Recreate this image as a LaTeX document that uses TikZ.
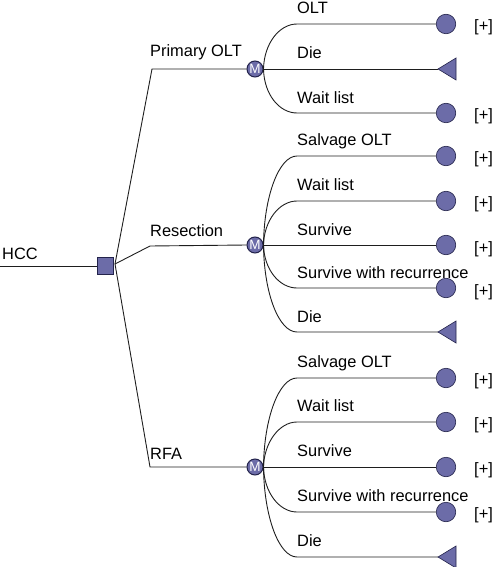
\documentclass[tikz,border=0pt]{standalone}
\usepackage{fontspec}
\setmainfont{Liberation Sans}
\definecolor{nodec}{RGB}{108,108,168}
\definecolor{edgec}{RGB}{35,35,75}
\definecolor{linec}{RGB}{30,30,30}
\begin{document}
\begin{tikzpicture}[x=1pt,y=-1pt,
  txt/.style={anchor=base west, inner sep=0pt, font=\fontsize{16.4}{18}\selectfont},
  plus/.style={anchor=west, inner sep=0pt, font=\fontsize{16.4}{18}\selectfont},
  decnode/.style={draw=edgec, fill=nodec, minimum width=16pt, minimum height=17pt, inner sep=0pt, line width=0.8pt},
  chance/.style={circle, draw=edgec, fill=nodec, minimum size=16pt, inner sep=0pt, line width=1pt, text=white, font=\fontsize{13.5}{13.5}\selectfont},
  term/.style={circle, draw=edgec, fill=nodec, minimum size=19.5pt, inner sep=0pt, line width=0.6pt},
  tri/.style={draw=edgec, fill=nodec, line width=0.6pt},
  conn/.style={draw=linec, line width=0.9pt}
]
\useasboundingbox (0,0) rectangle (494,567);

% root
\coordinate (start) at (0,266);
\node[decnode] (dec) at (105,266) {};
\node[txt] (hcc) at (2,259) {HCC};
\draw[conn] (start) -- (dec.west);
\coordinate (fan) at (115,264);

% chance nodes
\node[chance] (m1) at (255,69) {M};
\node[chance] (m2) at (255,245) {M};
\node[chance] (m3) at (255,467) {M};
\coordinate (k1) at (152,69);
\coordinate (k2) at (150,246);
\coordinate (k3) at (150,467);
\draw[conn] (fan) -- (k1) -- (m1.west);
\draw[conn] (fan) -- (k2) -- (m2.west);
\draw[conn] (fan) -- (k3) -- (m3.west);
\node[txt] (l1) at (150,57) {Primary OLT};
\node[txt] (l2) at (150,236) {Resection};
\node[txt] (l3) at (150,459) {RFA};

% ---- Primary OLT branches
\node[term] (t11) at (446,24) {};
\coordinate (d12) at (438,69);
\node[term] (t13) at (446,113) {};
\draw[conn] (m1.east) .. controls (264,44) and (279,24) .. (297,24) -- (t11.west);
\draw[conn] (m1.east) -- (d12);
\draw[conn] (m1.east) .. controls (264,94) and (279,113) .. (297,113) -- (t13.west);
\filldraw[tri] (d12) -- ++(18,-11) -- ++(0,22) -- cycle;
\node[txt] (a11) at (297,14) {OLT};
\node[txt] (a12) at (297,59) {Die};
\node[txt] (a13) at (297,103) {Wait list};
\node[plus] (p11) at (474,27) {[+]};
\node[plus] (p13) at (474,116) {[+]};

% ---- Resection branches
\node[term] (t21) at (446,156) {};
\node[term] (t22) at (446,201) {};
\node[term] (t23) at (446,245) {};
\node[term] (t24) at (446,288) {};
\coordinate (d25) at (438,332);
\draw[conn] (m2.east) .. controls (264,196) and (279,156) .. (297,156) -- (t21.west);
\draw[conn] (m2.east) .. controls (264,221) and (279,201) .. (297,201) -- (t22.west);
\draw[conn] (m2.east) -- (t23.west);
\draw[conn] (m2.east) .. controls (264,269) and (279,288) .. (297,288) -- (t24.west);
\draw[conn] (m2.east) .. controls (264,294) and (279,332) .. (297,332) -- (d25);
\filldraw[tri] (d25) -- ++(18,-11) -- ++(0,22) -- cycle;
\node[txt] (a21) at (297,145) {Salvage OLT};
\node[txt] (a22) at (297,190) {Wait list};
\node[txt] (a23) at (297,235) {Survive};
\node[txt] (a24) at (297,278) {Survive with recurrence};
\node[txt] (a25) at (297,322) {Die};
\node[plus] (p21) at (474,159) {[+]};
\node[plus] (p22) at (474,204) {[+]};
\node[plus] (p23) at (474,249) {[+]};
\node[plus] (p24) at (474,292) {[+]};

% ---- RFA branches
\node[term] (t31) at (446,378) {};
\node[term] (t32) at (446,422) {};
\node[term] (t33) at (446,467) {};
\node[term] (t34) at (446,512) {};
\coordinate (d35) at (438,557);
\draw[conn] (m3.east) .. controls (264,418) and (279,378) .. (297,378) -- (t31.west);
\draw[conn] (m3.east) .. controls (264,443) and (279,422) .. (297,422) -- (t32.west);
\draw[conn] (m3.east) -- (t33.west);
\draw[conn] (m3.east) .. controls (264,492) and (279,512) .. (297,512) -- (t34.west);
\draw[conn] (m3.east) .. controls (264,517) and (279,557) .. (297,557) -- (d35);
\filldraw[tri] (d35) -- ++(18,-11) -- ++(0,22) -- cycle;
\node[txt] (a31) at (297,367) {Salvage OLT};
\node[txt] (a32) at (297,411) {Wait list};
\node[txt] (a33) at (297,456) {Survive};
\node[txt] (a34) at (297,501) {Survive with recurrence};
\node[txt] (a35) at (297,546) {Die};
\node[plus] (p31) at (474,381) {[+]};
\node[plus] (p32) at (474,425) {[+]};
\node[plus] (p33) at (474,470) {[+]};
\node[plus] (p34) at (474,515) {[+]};
\end{tikzpicture}
\end{document}
